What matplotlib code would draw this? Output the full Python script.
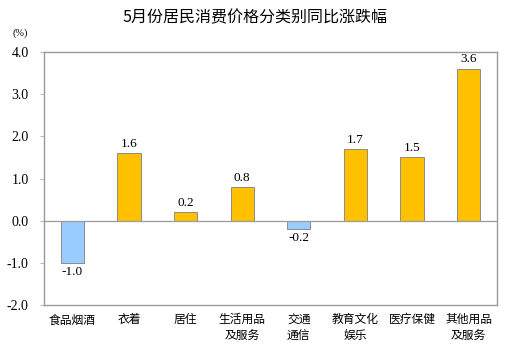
import matplotlib
matplotlib.use("Agg")
import matplotlib.pyplot as plt

plt.rcParams['font.family'] = ['Liberation Serif', 'Noto Sans CJK SC']

categories = ["食品烟酒", "衣着", "居住", "生活用品\n及服务", "交通\n通信",
              "教育文化\n娱乐", "医疗保健", "其他用品\n及服务"]
values = [-1.0, 1.6, 0.2, 0.8, -0.2, 1.7, 1.5, 3.6]
yticks = [-2.0, -1.0, 0.0, 1.0, 2.0, 3.0, 4.0]

fig = plt.figure(figsize=(5.10, 3.53), dpi=100)
ax = fig.add_axes([44 / 510, 1 - 305 / 353, 453 / 510, 253 / 353])

colors = ['#FFC000' if v >= 0 else '#99CCFF' for v in values]
x = range(len(values))
ax.bar(x, values, width=0.41, color=colors, edgecolor='#7f7f7f', linewidth=0.6)
ax.axhline(0, color='#9a9a9a', linewidth=0.9)

for i, v in enumerate(values):
    off = 0.08 if v >= 0 else -0.08
    ax.text(i, v + off, f"{v:.1f}", ha='center', va='bottom' if v >= 0 else 'top',
            fontsize=9.5, family='Liberation Serif')

ax.set_xlim(-0.5, len(values) - 0.5)
ax.set_ylim(-2.0, 4.0)
ax.set_yticks(yticks)
ax.set_yticklabels([f"{t:.1f}" for t in yticks], fontsize=10)
ax.set_xticks(list(x))
ax.set_xticklabels(categories, fontsize=8.5, family=['Noto Sans CJK SC'],
                   linespacing=1.3, va='top')
ax.tick_params(axis='x', length=0, pad=6)
ax.tick_params(axis='y', length=3, color='#bbbbbb', pad=8)
for s in ax.spines.values():
    s.set_color('#9a9a9a')
    s.set_linewidth(1.0)

fig.text(0.5, 1 - 18 / 353, "5月份居民消费价格分类别同比涨跌幅", ha='center', va='center',
         fontsize=11.5, fontweight='medium', family=['Noto Sans CJK SC'])
fig.text(20 / 510, 1 - 33 / 353, "(%)", ha='center', va='center', fontsize=7.5)

fig.savefig("out.png", dpi=100)
